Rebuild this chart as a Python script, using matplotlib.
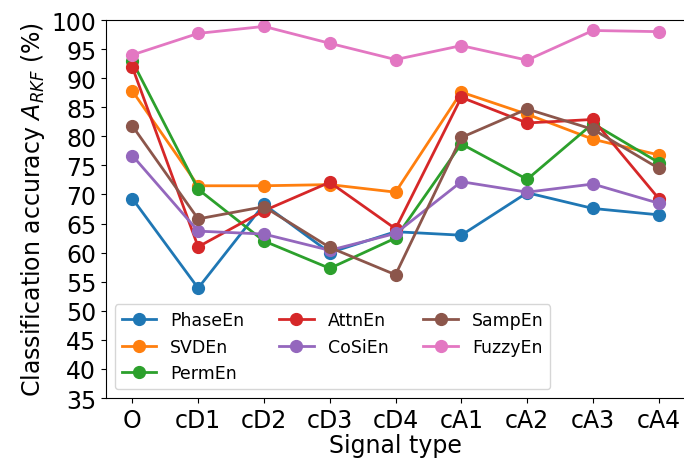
import numpy as np
from matplotlib import pyplot as plt

signals = ["O", "cD1", "cD2", "cD3", "cD4", "cA1", "cA2", "cA3", "cA4"]

phase_en = [69.3, 53.9, 68.3, 60.0, 63.6, 63.0, 70.3, 67.6, 66.5]
svd_en = [87.8, 71.5, 71.5, 71.7, 70.4, 87.6, 83.8, 79.5, 76.8]
perm_en = [92.9, 70.9, 62.0, 57.3, 62.5, 78.7, 72.6, 82.2, 75.5]
attn_en = [91.9, 61.0, 67.2, 72.1, 64.1, 86.7, 82.3, 82.9, 69.3]
cosi_en = [76.7, 63.7, 63.2, 60.4, 63.3, 72.2, 70.4, 71.8, 68.5]
samp_en = [81.8, 65.8, 67.9, 60.9, 56.2, 79.8, 84.7, 81.2, 74.5]
fuzzy_en = [94.0, 97.7, 98.9, 96.0, 93.2, 95.6, 93.1, 98.2, 98.0]

series = [
    ("PhaseEn", phase_en),
    ("SVDEn", svd_en),
    ("PermEn", perm_en),
    ("AttnEn", attn_en),
    ("CoSiEn", cosi_en),
    ("SampEn", samp_en),
    ("FuzzyEn", fuzzy_en),
]

fig = plt.figure(figsize=(6.84, 4.64), dpi=100)
ax = fig.add_axes([0.155, 0.140, 0.8465, 0.8147])

x = np.arange(len(signals))
for name, vals in series:
    ax.plot(x, vals, marker="o", markersize=8.5, linewidth=2, label=name)

ax.set_ylim(35, 100)
ax.set_yticks(np.arange(35, 101, 5))
ax.set_xticks(x)
ax.set_xticklabels(signals)
ax.tick_params(labelsize=17)
ax.set_xlabel("Signal type", fontsize=17, labelpad=1)
ax.set_ylabel("Classification accuracy $A_{RKF}$ (%)", fontsize=17, labelpad=3)
ax.legend(loc="lower left", ncol=3, fontsize=12.5)

fig.savefig("out.png", dpi=100)
